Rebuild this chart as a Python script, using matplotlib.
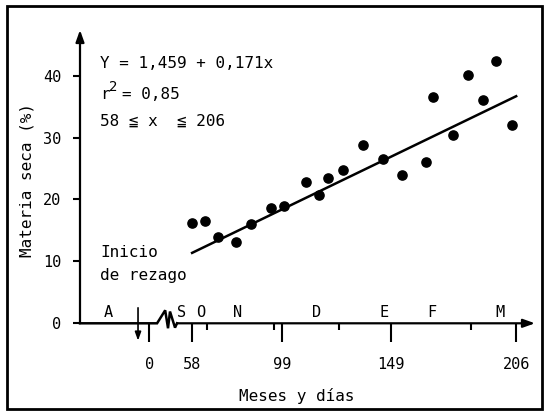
import numpy as np
import matplotlib
matplotlib.use("Agg")
import matplotlib.pyplot as plt
from matplotlib.patches import Rectangle

# materia seca (%) por fecha de muestreo (días desde el inicio del rezago)
dias = [58, 64, 70, 78, 85, 94, 100, 110, 116, 120, 127, 136, 145, 154,
        165, 168, 177, 184, 191, 197, 204]
materia_seca = [16.2, 16.6, 13.9, 13.1, 16.1, 18.7, 19.0, 22.8, 20.7, 23.5,
                24.7, 28.8, 26.5, 23.9, 26.1, 36.6, 30.4, 40.1, 36.0, 42.3, 32.1]

# recta ajustada Y = b0 + b1 x, válida para 58 <= x <= 206
b0, b1 = 1.459, 0.171
x_min, x_max = 58, 206

meses = ["A", "S", "O", "N", "D", "E", "F", "M"]
pos_meses = [19.6, 53.2, 62.1, 78.9, 114.9, 145.5, 167.7, 198.6]
dias_ticks = ["0", "58", "99", "149", "206"]
pos_ticks = [38.5, 58, 99, 149, 206]
pos_menores = [64.8, 95.3, 125.1, 185.2]
y_ticks = [0, 10, 20, 30, 40]

plt.rcParams['font.family'] = ['DejaVu Sans Mono', 'DejaVu Sans']
fs = 11
fs_txt = 11.5

fig = plt.figure(figsize=(5.44, 4.12), dpi=100)
ax = fig.add_axes([80/544, (412-323.3)/412, 455/544, 293.3/412])
x0, x1 = 6.8, 214.6
ax.set_xlim(x0, x1)
ax.set_ylim(0, 47.38)
for s in ax.spines.values():
    s.set_visible(False)

# eje Y con flecha
ax.annotate('', xy=(x0, 47.38), xytext=(x0, 0), annotation_clip=False,
            arrowprops=dict(arrowstyle='-|>,head_length=0.7,head_width=0.25',
                            lw=1.6, color='k', shrinkA=0, shrinkB=0))
# eje X con corte (zigzag) y flecha
zx = [x0, 42.0, 45.7, 47.0, 47.9, 50.2, 51.1]
zy = [0, 0, 2.1, -0.8, 1.9, -0.7, 0]
ax.plot(zx, zy, color='k', lw=1.8, clip_on=False, solid_joinstyle='miter')
ax.annotate('', xy=(x1, 0), xytext=(51.1, 0), annotation_clip=False,
            arrowprops=dict(arrowstyle='-|>,head_length=0.7,head_width=0.25',
                            lw=1.6, color='k', shrinkA=0, shrinkB=0))
# flecha de inicio de rezago
ax.annotate('', xy=(33.3, -2.8), xytext=(33.3, 2.5), annotation_clip=False,
            arrowprops=dict(arrowstyle='-|>,head_length=0.5,head_width=0.18',
                            lw=1.2, color='k', shrinkA=0, shrinkB=0))

ax.set_yticks(y_ticks)
ax.set_yticklabels([str(v) for v in y_ticks], fontsize=fs)
ax.tick_params(axis='y', direction='out', length=5, width=1.5, pad=8.5)
ax.set_xticks(pos_ticks)
ax.set_xticklabels(dias_ticks, fontsize=fs)
ax.set_xticks(pos_menores, minor=True)
ax.tick_params(axis='x', which='major', direction='out', length=13.5,
               width=1.5, pad=10.5)
ax.tick_params(axis='x', which='minor', direction='out', length=5, width=1.5)

ax.set_ylabel('Materia seca (%)', fontsize=fs_txt)
ax.yaxis.set_label_coords(-0.10, 0.49)
ax.set_xlabel('Meses y días', fontsize=fs_txt)
ax.xaxis.set_label_coords(0.477, -0.222)

for m, p in zip(meses, pos_meses):
    ax.text(p, 1.8, m, ha='center', va='center', fontsize=fs)

# puntos observados y recta de regresión
ax.scatter(dias, materia_seca, s=44, color='k', zorder=3, clip_on=False)
xr = np.array([x_min, x_max])
ax.plot(xr, b0 + b1*xr, color='k', lw=1.8)

ax.text(15.9, 42.0, 'Y = 1,459 + 0,171x', fontsize=fs_txt, va='center')
ax.text(15.9, 36.3, 'r', fontsize=fs_txt, va='baseline')
ax.text(19.9, 37.6, '2', fontsize=10, va='baseline')
ax.text(26.0, 36.3, '= 0,85', fontsize=fs_txt, va='baseline')
ax.text(15.9, 32.6, '58 ≦ x  ≦ 206', fontsize=fs_txt, va='center')
ax.text(16.1, 11.5, 'Inicio', fontsize=fs_txt, va='center')
ax.text(16.1, 7.8, 'de rezago', fontsize=fs_txt, va='center')

# marco exterior
fig.patches.append(Rectangle((7/544, 3/412), 535/544, 403/412,
                             transform=fig.transFigure, fill=False,
                             lw=2.0, edgecolor='k'))

fig.savefig('out.png', dpi=100)
